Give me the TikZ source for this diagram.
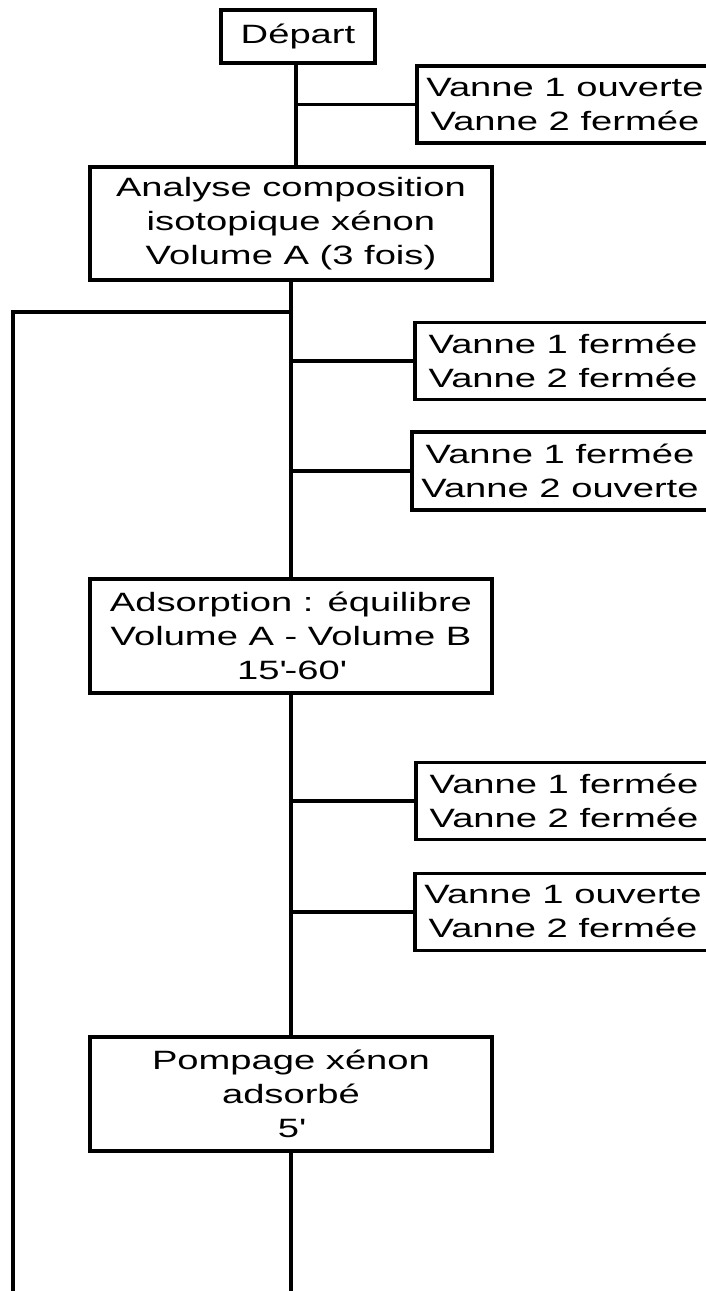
\documentclass[tikz,border=0pt]{standalone}
\usepackage{fontspec}
\setmainfont{Liberation Sans}[FakeStretch=1.44]
\begin{document}
\begin{tikzpicture}[x=1pt,y=-1pt,line width=3.8pt,
  every node/.style={font=\fontsize{26.5}{34}\selectfont},
  bigbox/.style={draw,align=center,minimum width=402pt,minimum height=114pt,inner sep=0pt},
  startbox/.style={draw,align=center,minimum width=154pt,minimum height=53pt,inner sep=0pt},
  valvebox/.style={draw,align=center,minimum width=296pt,minimum height=77pt,inner sep=0pt}]
\useasboundingbox (0,0) rectangle (706,1291);
\clip (0,0) rectangle (706,1291);
% main steps
\node[startbox] (depart) at (298,36.5) {Départ};
\node[bigbox,minimum height=113pt] (analyse) at (291,223.5) {Analyse composition\\isotopique xénon\\Volume A (3 fois)};
\node[bigbox] (adsorp) at (291,636) {Adsorption : équilibre\\Volume A - Volume B\\15\textquotesingle-60\textquotesingle};
\node[bigbox] (pompage) at (291,1094) {Pompage xénon\\adsorbé\\5\textquotesingle};
% valve states
\node[valvebox] (v1) at (565,104.5) {Vanne 1 ouverte\\Vanne 2 fermée};
\node[valvebox] (v2) at (563,361) {Vanne 1 fermée\\Vanne 2 fermée};
\node[valvebox,minimum height=78pt] (v3) at (560,471) {Vanne 1 fermée\\Vanne 2 ouverte};
\node[valvebox] (v4) at (564,801) {Vanne 1 fermée\\Vanne 2 fermée};
\node[valvebox] (v5) at (563,912) {Vanne 1 ouverte\\Vanne 2 fermée};
% free ends
\coordinate (loopTop) at (13,312);
\coordinate (loopEnd) at (13,1300);
\coordinate (mainEnd) at (291,1300);
% spine
\draw (depart.south -| 296,0) -- (296,0 |- analyse.north);
\draw (analyse.south) -- (adsorp.north);
\draw (adsorp.south) -- (pompage.north);
\draw (pompage.south) -- (mainEnd);
% branches
\draw (296,0 |- v1.west) -- (v1.west);
\draw (analyse.south |- v2.west) -- (v2.west);
\draw (analyse.south |- v3.west) -- (v3.west);
\draw (adsorp.south |- v4.west) -- (v4.west);
\draw (adsorp.south |- v5.west) -- (v5.west);
% return loop
\draw (analyse.south |- loopTop) -- (loopTop) -- (loopEnd);
\end{tikzpicture}
\end{document}
